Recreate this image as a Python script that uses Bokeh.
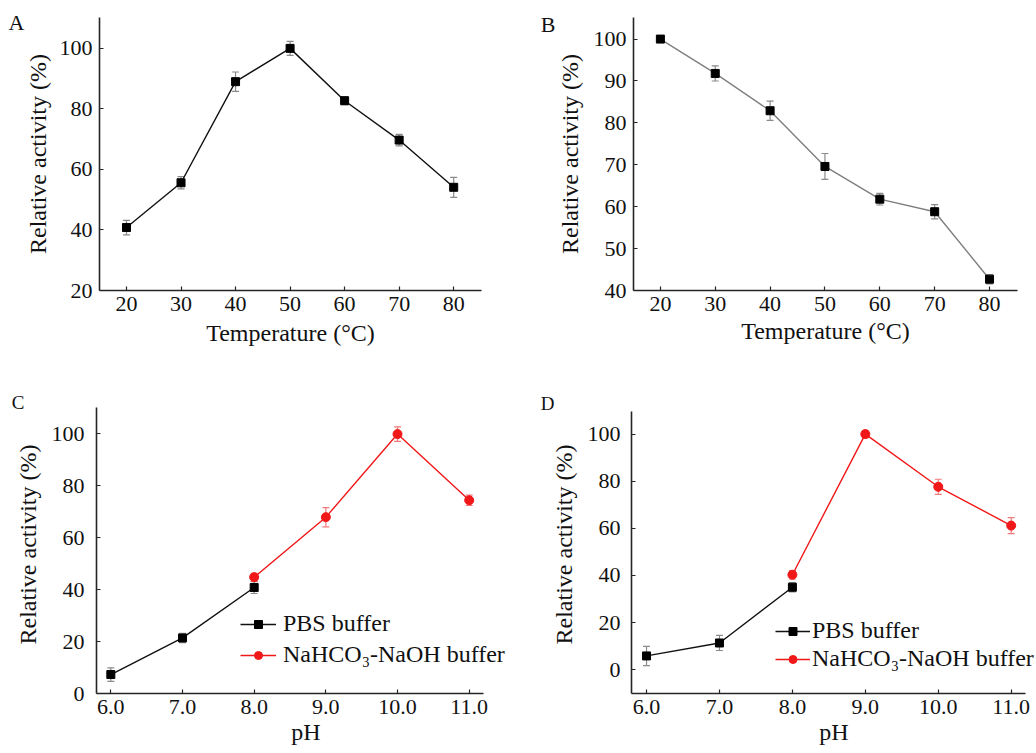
from bokeh.plotting import figure
from bokeh.layouts import row, column
from bokeh.models import (ColumnDataSource, Whisker, TeeHead, FixedTicker, Range1d,
                          LinearAxis, Legend, LegendItem, PrintfTickFormatter)
from bokeh.embed import file_html
from bokeh.resources import INLINE

FONT = "Liberation Serif"

# ---------------- data ----------------
temp = [20, 30, 40, 50, 60, 70, 80]
a_act = [40.8, 55.6, 89.0, 100.0, 82.7, 69.7, 54.1]
a_err = [2.4, 2.0, 3.2, 2.3, 1.3, 1.9, 3.3]
b_act = [100.0, 91.8, 82.9, 69.6, 61.8, 58.8, 42.7]
b_err = [0.8, 1.8, 2.3, 3.1, 1.4, 1.7, 1.1]

ph_pbs = [6.0, 7.0, 8.0]
ph_na = [8.0, 9.0, 10.0, 11.0]
c_pbs = [7.3, 21.4, 40.8]
c_pbs_err = [2.6, 1.8, 2.3]
c_na = [44.8, 67.9, 99.9, 74.4]
c_na_err = [1.5, 3.7, 2.8, 2.0]
d_pbs = [5.8, 11.3, 35.0]
d_pbs_err = [4.1, 3.2, 2.0]
d_na = [40.3, 100.1, 77.7, 61.2]
d_na_err = [1.8, 1.5, 3.2, 3.4]

temp_ticks = [20, 30, 40, 50, 60, 70, 80]
a_yticks = [20, 40, 60, 80, 100]
b_yticks = [40, 50, 60, 70, 80, 90, 100]
ph_ticks = [6.0, 7.0, 8.0, 9.0, 10.0, 11.0]
ph_yticks = [0, 20, 40, 60, 80, 100]

names = ["PBS buffer", "NaHCO\u2083-NaOH buffer"]
letters = ["A", "B", "C", "D"]
xlabels = ["Temperature (\u00b0C)", "pH"]
ylabel = "Relative activity (%)"

RED = "#f01818"
RED_ERR = "#f07a7a"
AX = "#262626"
TXT = "#111111"


def make_fig(w, h, left, right, top, bottom, xr, yr, xt, yt, xlabel,
             tick_std_x, lab_std_x, tick_std_y, lab_std_y, fmt=None,
             xbounds=None, ybounds=None):
    p = figure(width=w, height=h, output_backend="svg", toolbar_location=None,
               title=None,
               x_range=Range1d(*xr), y_range=Range1d(*yr),
               min_border_left=left, min_border_right=right,
               min_border_top=top, min_border_bottom=bottom)
    p.outline_line_color = None
    p.grid.visible = False
    xa = p.xaxis[0]
    ya = p.yaxis[0]
    xa.ticker = FixedTicker(ticks=xt)
    ya.ticker = FixedTicker(ticks=yt)
    if fmt:
        xa.formatter = PrintfTickFormatter(format=fmt)
    if xbounds:
        xa.bounds = xbounds
    if ybounds:
        ya.bounds = ybounds
    for ax in (xa, ya):
        ax.axis_line_color = AX
        ax.axis_line_width = 1.6
        ax.major_tick_line_color = AX
        ax.major_tick_line_width = 1.2
        ax.major_tick_in = 4
        ax.major_tick_out = 0
        ax.minor_tick_line_color = None
        ax.major_label_text_font = FONT
        ax.major_label_text_font_size = "22px"
        ax.major_label_text_color = TXT
        ax.axis_label_text_font = FONT
        ax.axis_label_text_font_style = "normal"
        ax.axis_label_text_color = TXT
        ax.axis_label_text_font_size = "24px"
    xa.axis_label = xlabel
    xa.major_label_standoff = tick_std_x
    xa.axis_label_standoff = lab_std_x
    ya.axis_label = ylabel
    ya.major_label_standoff = tick_std_y
    ya.axis_label_standoff = lab_std_y
    return p


def add_letter(p, letter, y, standoff, size):
    # panel letter drawn as the single label of a bare extra axis, outside the y axis
    ax = LinearAxis(ticker=FixedTicker(ticks=[y]), formatter=PrintfTickFormatter(format=letter))
    ax.axis_line_color = None
    ax.major_tick_line_color = None
    ax.minor_tick_line_color = None
    ax.major_tick_in = 0
    ax.major_tick_out = 0
    ax.major_label_standoff = standoff
    ax.major_label_text_font = FONT
    ax.major_label_text_font_size = size
    ax.major_label_text_color = TXT
    p.add_layout(ax, "left")


def add_series(p, x, y, err, line_color, err_color, marker, size):
    lower = [v - e for v, e in zip(y, err)]
    upper = [v + e for v, e in zip(y, err)]
    src = ColumnDataSource(dict(x=x, y=y, lower=lower, upper=upper))
    wk = Whisker(base="x", lower="lower", upper="upper", source=src,
                 line_color=err_color, line_width=1.2,
                 upper_head=TeeHead(size=7, line_color=err_color, line_width=1.2),
                 lower_head=TeeHead(size=7, line_color=err_color, line_width=1.2))
    p.add_layout(wk)
    lr = p.line("x", "y", source=src, line_color=line_color, line_width=1.4)
    sr = p.scatter("x", "y", source=src, marker=marker, size=size,
                   fill_color="black" if marker == "square" else line_color,
                   line_color="black" if marker == "square" else line_color)
    return lr, sr


def make_legend(p, items, loc, spacing, standoff, gw):
    leg = Legend(items=items, location=loc, border_line_color=None,
                 background_fill_alpha=0, padding=0, margin=0, spacing=spacing,
                 label_standoff=standoff, glyph_width=gw, glyph_height=20,
                 label_height=20, label_text_font=FONT, label_text_font_size="24px",
                 label_text_color=TXT)
    p.add_layout(leg)


# ---------- top row ----------
pA = make_fig(518, 376, 99, 37, 17, 86, (15.05, 85.1), (20, 110.2), temp_ticks, a_yticks,
              xlabels[0], 6, 6, 7, 6)
add_series(pA, temp, a_act, a_err, TXT, "#8a8a8a", "square", 8)
add_letter(pA, letters[0], 108.4, -3, "22px")

pB = make_fig(518, 376, 115, 19, 14, 84, (15.1, 85.1), (40, 105.15), temp_ticks, b_yticks,
              xlabels[0], 6, 4, 7, 8)
add_series(pB, temp, b_act, b_err, "#7f7f7f", "#8a8a8a", "square", 8)
add_letter(pB, letters[1], 103.4, -2, "22px")

# ---------- bottom row ----------
pC = make_fig(518, 377, 96, 3, 19, 60, (5.8, 11.646), (0, 114.75), ph_ticks, ph_yticks,
              xlabels[1], 6, 2, 12, 8, fmt="%.1f", xbounds=(5.8, 11.2), ybounds=(0, 110.1))
l1, s1 = add_series(pC, ph_pbs, c_pbs, c_pbs_err, TXT, "#8a8a8a", "square", 8)
l2, s2 = add_series(pC, ph_na, c_na, c_na_err, RED, RED_ERR, "circle", 9)
make_legend(pC, [LegendItem(label=names[0], renderers=[l1, s1]),
                 LegendItem(label=names[1], renderers=[l2, s2])],
            (144, 25), 4, 7, 36)
add_letter(pC, letters[2], 111.9, -13, "19px")

pD = make_fig(518, 377, 113, 0, 19, 59, (5.794, 11.347), (-10.17, 116.5), ph_ticks, ph_yticks,
              xlabels[1], 6, 2, 11, 8, fmt="%.1f", xbounds=(5.8, 11.19), ybounds=(-10.17, 109.75))
l3, s3 = add_series(pD, ph_pbs, d_pbs, d_pbs_err, TXT, "#8a8a8a", "square", 8)
l4, s4 = add_series(pD, ph_na, d_na, d_na_err, RED, RED_ERR, "circle", 9)
make_legend(pD, [LegendItem(label=names[0], renderers=[l3, s3]),
                 LegendItem(label=names[1], renderers=[l4, s4])],
            (144, 21), 1, 2, 35)
add_letter(pD, letters[3], 113.1, -7, "19px")

layout = column(row(pA, pB), row(pC, pD))

open("out.html", "w").write(file_html(layout, INLINE))
